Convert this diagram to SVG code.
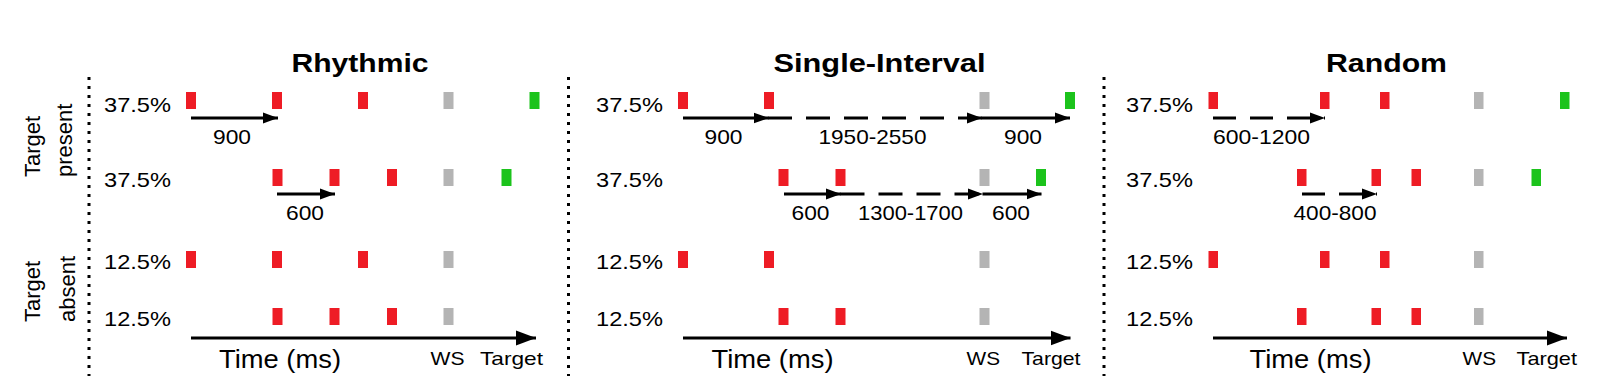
<svg xmlns="http://www.w3.org/2000/svg" width="1599" height="388" viewBox="0 0 1599 388">
<style>
text{font-family:"Liberation Sans",Arial,sans-serif;fill:#000}
.title{font-size:26px;font-weight:bold;text-anchor:middle}
.pct{font-size:21px}
.lbl{font-size:21px;text-anchor:middle}
.side{font-size:22px}
.time{font-size:26px}
.ax{font-size:19px}
.r{fill:#ee1c25}
.g{fill:#b4b4b4}
.t{fill:#1cc31c}
.sep{stroke:#000;stroke-width:3;stroke-dasharray:3 6;fill:none}
.arr{stroke:#000;stroke-width:3;fill:none;marker-end:url(#ah)}
.d2{stroke-dasharray:24 14}
.d3{stroke-dasharray:23 14}
.axis{stroke:#000;stroke-width:3;fill:none;marker-end:url(#ahL)}
</style>
<defs>
<marker id="ah" markerUnits="userSpaceOnUse" markerWidth="16" markerHeight="12" refX="15" refY="6" orient="auto"><path d="M0,0.5 L15,6 L0,11.5 z" fill="#000"/></marker>
<marker id="ahL" markerUnits="userSpaceOnUse" markerWidth="21" markerHeight="16" refX="20" refY="8" orient="auto"><path d="M0,0.5 L20,8 L0,15.5 z" fill="#000"/></marker>
</defs>
<rect width="1599" height="388" fill="#fff"/>

<g id="side-labels">
<text class="side" transform="translate(40,177) rotate(-90)">Target</text>
<text class="side" transform="translate(72,177) rotate(-90)">present</text>
<text class="side" transform="translate(40,322) rotate(-90)">Target</text>
<text class="side" transform="translate(75,322) rotate(-90)">absent</text>
</g>

<g id="separators">
<line class="sep" x1="89" y1="77" x2="89" y2="376"/>
<line class="sep" x1="568.5" y1="77" x2="568.5" y2="376"/>
<line class="sep" x1="1104" y1="77" x2="1104" y2="376"/>
</g>

<g id="rhythmic">
<text class="title" x="360" y="72" textLength="137" lengthAdjust="spacingAndGlyphs">Rhythmic</text>
<g id="rh-row1"><text class="pct" x="104" y="112" textLength="67" lengthAdjust="spacingAndGlyphs">37.5%</text>
<rect class="r" x="186" y="92" width="10" height="17"/><rect class="r" x="272" y="92" width="10" height="17"/><rect class="r" x="358" y="92" width="10" height="17"/><rect class="g" x="443.5" y="92" width="10" height="17"/><rect class="t" x="529.5" y="92" width="10" height="17"/></g>
<g id="rh-row2"><text class="pct" x="104" y="187" textLength="67" lengthAdjust="spacingAndGlyphs">37.5%</text>
<rect class="r" x="272.5" y="169" width="10" height="17"/><rect class="r" x="329.5" y="169" width="10" height="17"/><rect class="r" x="387" y="169" width="10" height="17"/><rect class="g" x="443.5" y="169" width="10" height="17"/><rect class="t" x="501.5" y="169" width="10" height="17"/></g>
<g id="rh-row3"><text class="pct" x="104" y="269" textLength="67" lengthAdjust="spacingAndGlyphs">12.5%</text>
<rect class="r" x="186" y="251" width="10" height="17"/><rect class="r" x="272" y="251" width="10" height="17"/><rect class="r" x="358" y="251" width="10" height="17"/><rect class="g" x="443.5" y="251" width="10" height="17"/></g>
<g id="rh-row4"><text class="pct" x="104" y="326" textLength="67" lengthAdjust="spacingAndGlyphs">12.5%</text>
<rect class="r" x="272.5" y="308" width="10" height="17"/><rect class="r" x="329.5" y="308" width="10" height="17"/><rect class="r" x="387" y="308" width="10" height="17"/><rect class="g" x="443.5" y="308" width="10" height="17"/></g>
<text class="lbl" x="232" y="144" textLength="38" lengthAdjust="spacingAndGlyphs">900</text>
<text class="lbl" x="305" y="220" textLength="38" lengthAdjust="spacingAndGlyphs">600</text>
<text class="time" x="219" y="368" textLength="122" lengthAdjust="spacingAndGlyphs">Time (ms)</text>
<text class="ax" x="430.5" y="365" textLength="34" lengthAdjust="spacingAndGlyphs">WS</text>
<text class="ax" x="480" y="365" textLength="63" lengthAdjust="spacingAndGlyphs">Target</text>
</g>

<g id="single-interval">
<text class="title" x="879.5" y="72" textLength="212" lengthAdjust="spacingAndGlyphs">Single-Interval</text>
<g id="si-row1"><text class="pct" x="596" y="112" textLength="67" lengthAdjust="spacingAndGlyphs">37.5%</text>
<rect class="r" x="678" y="92" width="10" height="17"/><rect class="r" x="764" y="92" width="10" height="17"/><rect class="g" x="979.5" y="92" width="10" height="17"/><rect class="t" x="1065" y="92" width="10" height="17"/></g>
<g id="si-row2"><text class="pct" x="596" y="187" textLength="67" lengthAdjust="spacingAndGlyphs">37.5%</text>
<rect class="r" x="778.5" y="169" width="10" height="17"/><rect class="r" x="835.5" y="169" width="10" height="17"/><rect class="g" x="979.5" y="169" width="10" height="17"/><rect class="t" x="1036" y="169" width="10" height="17"/></g>
<g id="si-row3"><text class="pct" x="596" y="269" textLength="67" lengthAdjust="spacingAndGlyphs">12.5%</text>
<rect class="r" x="678" y="251" width="10" height="17"/><rect class="r" x="764" y="251" width="10" height="17"/><rect class="g" x="979.5" y="251" width="10" height="17"/></g>
<g id="si-row4"><text class="pct" x="596" y="326" textLength="67" lengthAdjust="spacingAndGlyphs">12.5%</text>
<rect class="r" x="778.5" y="308" width="10" height="17"/><rect class="r" x="835.5" y="308" width="10" height="17"/><rect class="g" x="979.5" y="308" width="10" height="17"/></g>
<text class="lbl" x="723.5" y="144" textLength="38" lengthAdjust="spacingAndGlyphs">900</text>
<text class="lbl" x="872.5" y="144" textLength="108" lengthAdjust="spacingAndGlyphs">1950-2550</text>
<text class="lbl" x="1023" y="144" textLength="38" lengthAdjust="spacingAndGlyphs">900</text>
<text class="lbl" x="810.5" y="220" textLength="38" lengthAdjust="spacingAndGlyphs">600</text>
<text class="lbl" x="910.5" y="220" textLength="105" lengthAdjust="spacingAndGlyphs">1300-1700</text>
<text class="lbl" x="1011" y="220" textLength="38" lengthAdjust="spacingAndGlyphs">600</text>
<text class="time" x="711.5" y="368" textLength="122" lengthAdjust="spacingAndGlyphs">Time (ms)</text>
<text class="ax" x="966.5" y="365" textLength="33.5" lengthAdjust="spacingAndGlyphs">WS</text>
<text class="ax" x="1021.5" y="365" textLength="59" lengthAdjust="spacingAndGlyphs">Target</text>
</g>

<g id="random">
<text class="title" x="1386.5" y="72" textLength="121" lengthAdjust="spacingAndGlyphs">Random</text>
<g id="ra-row1"><text class="pct" x="1126" y="112" textLength="67" lengthAdjust="spacingAndGlyphs">37.5%</text>
<rect class="r" x="1208.5" y="92" width="9.5" height="17"/><rect class="r" x="1320" y="92" width="9.5" height="17"/><rect class="r" x="1380" y="92" width="9.5" height="17"/><rect class="g" x="1474" y="92" width="9.5" height="17"/><rect class="t" x="1560" y="92" width="9.5" height="17"/></g>
<g id="ra-row2"><text class="pct" x="1126" y="187" textLength="67" lengthAdjust="spacingAndGlyphs">37.5%</text>
<rect class="r" x="1297" y="169" width="9.5" height="17"/><rect class="r" x="1371.5" y="169" width="9.5" height="17"/><rect class="r" x="1411.5" y="169" width="9.5" height="17"/><rect class="g" x="1474" y="169" width="9.5" height="17"/><rect class="t" x="1531.5" y="169" width="9.5" height="17"/></g>
<g id="ra-row3"><text class="pct" x="1126" y="269" textLength="67" lengthAdjust="spacingAndGlyphs">12.5%</text>
<rect class="r" x="1208.5" y="251" width="9.5" height="17"/><rect class="r" x="1320" y="251" width="9.5" height="17"/><rect class="r" x="1380" y="251" width="9.5" height="17"/><rect class="g" x="1474" y="251" width="9.5" height="17"/></g>
<g id="ra-row4"><text class="pct" x="1126" y="326" textLength="67" lengthAdjust="spacingAndGlyphs">12.5%</text>
<rect class="r" x="1297" y="308" width="9.5" height="17"/><rect class="r" x="1371.5" y="308" width="9.5" height="17"/><rect class="r" x="1411.5" y="308" width="9.5" height="17"/><rect class="g" x="1474" y="308" width="9.5" height="17"/></g>
<text class="lbl" x="1261.5" y="144" textLength="97" lengthAdjust="spacingAndGlyphs">600-1200</text>
<text class="lbl" x="1335" y="220" textLength="83" lengthAdjust="spacingAndGlyphs">400-800</text>
<text class="time" x="1249.5" y="368" textLength="122" lengthAdjust="spacingAndGlyphs">Time (ms)</text>
<text class="ax" x="1462.5" y="365" textLength="33.5" lengthAdjust="spacingAndGlyphs">WS</text>
<text class="ax" x="1516.5" y="365" textLength="60.5" lengthAdjust="spacingAndGlyphs">Target</text>
</g>

<g id="connectors">
<line class="arr" x1="191" y1="118" x2="278" y2="118"/>
<line class="arr" x1="277" y1="194" x2="335" y2="194"/>
<line class="axis" x1="191" y1="338" x2="536" y2="338"/>

<line class="arr" x1="683" y1="118" x2="768.5" y2="118"/>
<line class="arr d2" x1="768" y1="118" x2="982" y2="118"/>
<line class="arr" x1="981.5" y1="118" x2="1070" y2="118"/>
<line class="arr" x1="784" y1="194" x2="841" y2="194"/>
<line class="arr d2" x1="840.5" y1="194" x2="983" y2="194"/>
<line class="arr" x1="982.5" y1="194" x2="1041.5" y2="194"/>
<line class="axis" x1="683" y1="338" x2="1070.5" y2="338"/>

<line class="arr d3" x1="1213" y1="118" x2="1325" y2="118"/>
<line class="arr d3" x1="1302" y1="194" x2="1377" y2="194"/>
<line class="axis" x1="1213" y1="338" x2="1567" y2="338"/>
</g>
</svg>
